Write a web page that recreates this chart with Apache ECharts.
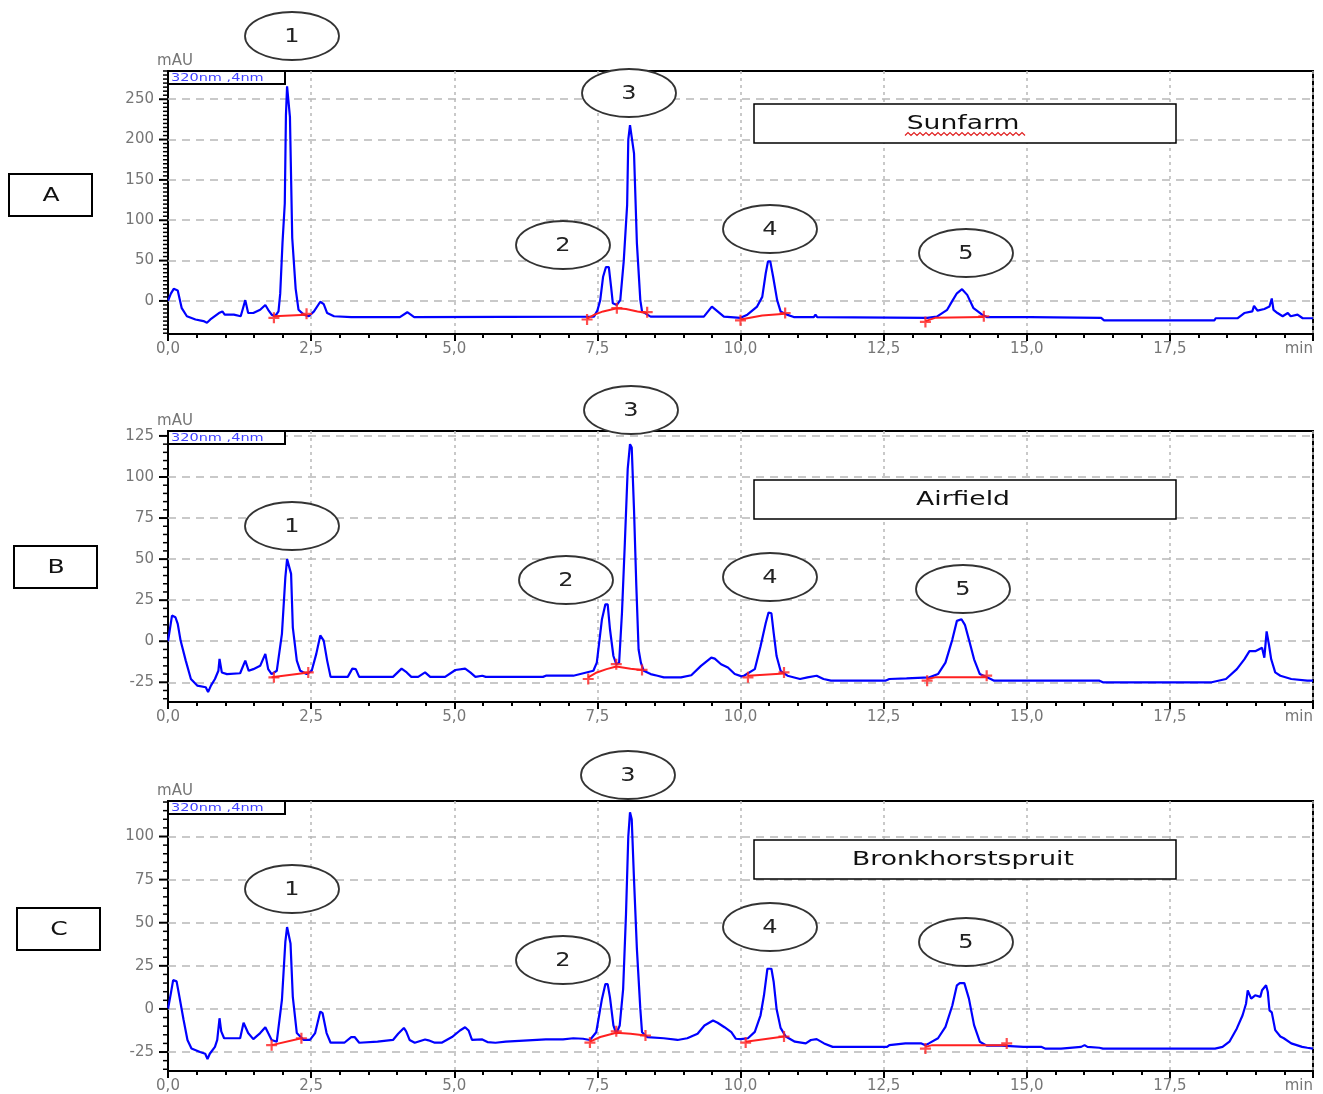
<!DOCTYPE html>
<html>
<head>
<meta charset="utf-8">
<script src="https://cdn.jsdelivr.net/npm/echarts@6/dist/echarts.min.js"></script>
<style>
html, body { margin: 0; padding: 0; background: #fff; }
#chart { width: 1323px; height: 1094px; }
</style>
</head>
<body>
<div id="chart"></div>
<script>
// --- data (time in min, absorbance in mAU) ---
const timeStep = 2.5;
const yTicksA = [0, 50, 100, 150, 200, 250];
const yTicksB = [-25, 0, 25, 50, 75, 100, 125];
const yTicksC = [-25, 0, 25, 50, 75, 100];
const yMinorStep = 5;
const sampleNames = ['Sunfarm', 'Airfield', 'Bronkhorstspruit'];
const panelLetters = ['A', 'B', 'C'];
const channelLabel = '320nm ,4nm';

const traceA = [
  [0.00,0],[0.05,9],[0.10,15],[0.17,13],[0.24,-9],[0.33,-19],[0.48,-23],[0.62,-25],[0.68,-27],[0.74,-23],
  [0.89,-15],[0.95,-13],[0.99,-17],[1.15,-17],[1.27,-19],[1.31,-9],[1.35,1],[1.40,-15],[1.49,-15],[1.61,-11],
  [1.70,-5],[1.75,-11],[1.81,-17],[1.87,-19],[1.93,-13],[1.96,9],[2.00,72],[2.04,121],[2.06,230],[2.08,266],
  [2.11,266],[2.13,228],[2.17,78],[2.23,15],[2.28,-11],[2.37,-17],[2.46,-19],[2.55,-13],[2.66,-1],[2.72,-4],
  [2.78,-15],[2.90,-19],[3.20,-20],[4.05,-20],[4.18,-14],[4.30,-20],[7.44,-19.5],[7.50,-12],[7.55,1],[7.60,30],
  [7.65,42],[7.70,42],[7.74,17],[7.77,-3],[7.84,-5],[7.90,1],[7.96,49],[8.02,119],[8.04,200],[8.07,218],
  [8.10,218],[8.14,183],[8.19,72],[8.25,1],[8.28,-13],[8.43,-19.5],[9.36,-19.5],[9.50,-7],[9.71,-19.5],[10.00,-21],
  [10.12,-17],[10.29,-7],[10.38,5],[10.44,34],[10.48,49],[10.52,49],[10.57,30],[10.64,1],[10.70,-13],[10.81,-17],
  [10.93,-20],[11.28,-20],[11.31,-17],[11.34,-20],[13.26,-21],[13.43,-19.5],[13.61,-11],[13.70,0],[13.78,9.5],[13.87,14.5],
  [13.96,7.5],[14.07,-9],[14.22,-17],[14.30,-20],[15.06,-20],[16.30,-21],[16.35,-24],[18.28,-24],[18.30,-21.5],[18.68,-21.5],
  [18.80,-15],[18.94,-13],[18.97,-6],[19.03,-12],[19.15,-10],[19.24,-7],[19.28,3],[19.31,-11],[19.38,-15],[19.47,-19],
  [19.56,-15],[19.61,-19],[19.73,-17],[19.82,-21.5],[20.00,-21.5]
];
const baseA = [
  [[1.85,-19],[2.42,-17]],
  [[7.32,-22],[7.45,-17],[7.60,-13],[7.84,-9],[8.00,-10],[8.20,-13],[8.37,-15]],
  [[10.00,-23],[10.38,-18],[10.78,-16]],
  [[13.23,-25],[13.40,-21],[14.25,-20]]
];
const marksA = [[1.85,-21],[2.42,-16],[7.32,-23],[7.84,-9],[8.37,-14],[10.00,-24],[10.78,-15],[13.23,-26],[14.25,-19]];

const traceB = [
  [0.00,0],[0.02,0.4],[0.07,15.6],[0.13,14.6],[0.17,10.6],[0.22,0.4],[0.31,-11.8],[0.40,-23],[0.51,-27],[0.66,-28],
  [0.70,-31],[0.75,-27],[0.82,-23],[0.88,-18],[0.90,-10.8],[0.94,-19],[1.03,-20],[1.26,-19.5],[1.35,-11.8],[1.41,-18],
  [1.49,-17],[1.61,-15],[1.70,-7.7],[1.75,-17],[1.81,-20],[1.90,-18],[1.99,4.5],[2.05,39],[2.08,50],[2.11,50],
  [2.15,41],[2.18,8.5],[2.25,-11.8],[2.31,-18],[2.42,-20],[2.51,-18],[2.59,-7.7],[2.66,3.5],[2.72,0.4],[2.78,-11.8],
  [2.84,-21.7],[3.14,-21.7],[3.22,-16.7],[3.28,-17],[3.34,-21.7],[3.93,-21.7],[4.08,-16.7],[4.17,-19],[4.25,-21.7],[4.37,-21.7],
  [4.49,-19],[4.58,-21.7],[4.84,-21.7],[5.02,-17.5],[5.19,-16.7],[5.28,-19],[5.37,-21.7],[5.49,-21],[5.55,-21.7],[6.55,-21.7],
  [6.60,-21],[7.08,-21],[7.43,-18],[7.49,-13],[7.58,13.4],[7.64,22.5],[7.68,22.5],[7.72,7.3],[7.78,-9],[7.83,-14],
  [7.88,-13],[7.93,17.5],[7.98,60],[8.03,105],[8.07,120],[8.10,118],[8.14,80],[8.18,34],[8.22,-5],[8.26,-13],
  [8.31,-18],[8.43,-20],[8.55,-21],[8.66,-22],[8.96,-22],[9.14,-20.7],[9.31,-15],[9.49,-10],[9.55,-10.6],[9.66,-14],
  [9.78,-16],[9.90,-20],[10.02,-21.4],[10.06,-21],[10.25,-17],[10.35,-3],[10.44,11],[10.49,17.5],[10.54,17],[10.58,5],
  [10.63,-9],[10.70,-18],[10.82,-21],[11.04,-23],[11.17,-22],[11.33,-21],[11.45,-23],[11.58,-24],[12.53,-24],[12.60,-23],
  [12.90,-22.6],[13.30,-22],[13.45,-20],[13.58,-13],[13.70,1],[13.78,12.4],[13.86,13.4],[13.92,10],[13.99,1],[14.08,-11],
  [14.18,-20],[14.37,-23],[14.43,-24],[16.27,-24],[16.33,-25],[18.23,-25],[18.48,-23],[18.67,-17],[18.80,-11],[18.89,-6],
  [19.00,-6],[19.11,-4],[19.15,-10],[19.19,6],[19.23,-2],[19.27,-11],[19.34,-19],[19.43,-21],[19.62,-23],[19.90,-24],
  [20.00,-24]
];
const baseB = [
  [[1.81,-22],[2.46,-19]],
  [[7.34,-22],[7.49,-19],[7.66,-17],[7.83,-15.4],[8.08,-16.7],[8.28,-17.5]],
  [[10.13,-21],[10.76,-19.7]],
  [[13.26,-23],[13.40,-22],[14.30,-22]]
];
const marksB = [[1.85,-22],[2.45,-19],[7.34,-23],[7.83,-14],[8.28,-17.5],[10.13,-22],[10.76,-19],[13.26,-24],[14.30,-21]];

const traceC = [
  [0.00,0],[0.05,9],[0.09,16.7],[0.15,16],[0.20,7],[0.27,-6],[0.34,-18],[0.41,-23],[0.56,-25],[0.65,-26],
  [0.69,-29],[0.73,-26],[0.82,-22],[0.86,-18],[0.90,-5.4],[0.93,-13],[0.98,-17],[1.26,-17],[1.32,-8],[1.35,-7],
  [1.40,-14],[1.49,-17.5],[1.61,-14],[1.70,-10.6],[1.75,-14],[1.81,-18],[1.90,-19],[1.99,5.2],[2.05,39],[2.08,47.5],
  [2.11,47.5],[2.14,38],[2.18,7],[2.25,-14],[2.37,-18],[2.48,-18],[2.57,-14],[2.66,-1.5],[2.70,-2.5],[2.77,-14],
  [2.84,-19.6],[3.08,-19.6],[3.20,-16.3],[3.26,-16.3],[3.34,-19.6],[3.66,-19],[3.93,-18],[4.02,-14.4],[4.12,-11],[4.16,-13],
  [4.22,-18],[4.31,-19.6],[4.49,-17.7],[4.55,-18.2],[4.66,-19.6],[4.78,-19.6],[4.96,-16.3],[5.10,-12.5],[5.19,-10.6],[5.25,-12.5],
  [5.31,-18],[5.49,-17.7],[5.58,-19.2],[5.72,-19.6],[5.90,-19],[6.60,-17.7],[6.90,-17.7],[7.08,-17],[7.25,-17.3],[7.37,-18],
  [7.48,-13.5],[7.58,5.8],[7.64,14.4],[7.68,14.4],[7.72,6.7],[7.78,-9.6],[7.83,-14.4],[7.89,-9.6],[7.95,11.5],[8.00,55],
  [8.04,100],[8.07,114],[8.10,110],[8.14,75],[8.19,35],[8.25,0],[8.28,-13.5],[8.37,-16.3],[8.66,-17],[8.90,-18],
  [9.07,-17],[9.25,-14.4],[9.37,-9.6],[9.52,-6.7],[9.60,-8],[9.72,-10.6],[9.84,-13.5],[9.92,-17.3],[10.00,-17.5],[10.13,-17],
  [10.25,-13.3],[10.35,-3.7],[10.41,7.9],[10.47,23.3],[10.54,23.3],[10.58,15.6],[10.63,0],[10.70,-11],[10.79,-16],[10.95,-19],
  [11.14,-20],[11.23,-18],[11.33,-17.5],[11.46,-20],[11.61,-22],[12.56,-22],[12.60,-21],[12.88,-20],[13.16,-20],[13.23,-21],
  [13.29,-20],[13.45,-17],[13.58,-10.4],[13.70,2],[13.78,13.7],[13.83,15],[13.91,15],[13.99,6],[14.08,-9.4],[14.18,-19],
  [14.30,-21.3],[14.56,-21.3],[14.94,-22],[15.25,-22],[15.32,-23],[15.60,-23],[15.63,-22],[15.95,-22],[16.01,-21],[16.06,-22],
  [16.27,-22.5],[16.33,-23],[18.29,-23],[18.42,-22],[18.54,-19],[18.67,-11.3],[18.77,-3.7],[18.83,3],[18.86,10.8],[18.92,6],
  [18.99,7.9],[19.08,7],[19.11,10.8],[19.18,13.7],[19.21,10],[19.24,-0.8],[19.28,-2],[19.34,-12.3],[19.43,-16],[19.49,-17],
  [19.62,-20],[19.81,-22],[19.90,-22.5],[20.00,-23]
];
const baseC = [
  [[1.81,-21],[2.33,-17]],
  [[7.37,-19],[7.55,-16.3],[7.83,-13.8],[8.08,-14.4],[8.34,-15.4]],
  [[10.09,-19],[10.76,-16]],
  [[13.23,-22],[13.35,-21],[14.11,-21],[14.65,-21]]
];
const marksC = [[1.81,-21],[2.33,-17],[7.37,-19.5],[7.83,-13],[8.34,-15.4],[10.09,-19.5],[10.76,-16],[13.23,-23],[14.65,-20]];

// --- layout ---
const FONT = 'DejaVu Sans';
const GRAY = '#767676';
const panels = [
  { top: 71,  height: 263, min: -41, max: 285,   ticks: yTicksA, trace: traceA, base: baseA, marks: marksA },
  { top: 431, height: 271, min: -37, max: 128,   ticks: yTicksB, trace: traceB, base: baseB, marks: marksB },
  { top: 801, height: 271, min: -36, max: 120.6, ticks: yTicksC, trace: traceC, base: baseC, marks: marksC }
];
// peak ellipses: [label, cx, cy]
const peakEllipses = [
  [['1',292,36],['3',629,93],['2',563,245],['4',770,229],['5',966,253]],
  [['1',292,526],['3',631,410],['2',566,580],['4',770,577],['5',963,589]],
  [['1',292,889],['3',628,775],['2',563,960],['4',770,927],['5',966,942]]
];
const letterBoxes = [[9,174],[14,546],[17,908]];
const nameBoxes = [104, 480, 840];

const plusPath = 'path://M4,0h2v4h4v2h-4v4h-2v-4h-4v-2h4z';

const grid = [], xAxis = [], yAxis = [], series = [];
panels.forEach((p, i) => {
  grid.push({
    left: 168, right: 10, top: p.top, height: p.height,
    show: true, borderColor: '#000', borderWidth: 2
  });
  xAxis.push({
    gridIndex: i, type: 'value', min: 0, max: 20, interval: timeStep,
    axisLine: { onZero: false, lineStyle: { color: '#000', width: 2 } },
    axisTick: { length: 7, lineStyle: { color: '#000', width: 2 } },
    minorTick: { show: true, splitNumber: 5, length: 4, lineStyle: { color: '#000', width: 2 } },
    axisLabel: {
      color: GRAY, fontFamily: FONT, fontSize: 15, margin: 8, alignMaxLabel: 'right',
      formatter: v => v === 20 ? 'min' : v.toFixed(1).replace('.', ',')
    },
    splitLine: { show: true, lineStyle: { color: '#b8b8b8', width: 1.5, type: [3, 4] } }
  });
  yAxis.push({
    gridIndex: i, type: 'value', min: p.min, max: p.max, position: 'left',
    name: 'mAU', nameLocation: 'end', nameGap: 2,
    nameTextStyle: { color: GRAY, fontFamily: FONT, fontSize: 15, padding: [0, 0, 0, 14] },
    axisLine: { show: true, onZero: false, lineStyle: { color: '#000', width: 2 } },
    axisTick: { show: false },
    axisLabel: { color: GRAY, fontFamily: FONT, fontSize: 15, margin: 14, customValues: p.ticks },
    splitLine: { show: false }
  });
  series.push({
    type: 'line', xAxisIndex: i, yAxisIndex: i, data: p.trace,
    showSymbol: false, silent: true, z: 3,
    lineStyle: { color: '#0000ff', width: 2.2 },
    markLine: {
      silent: true, symbol: 'none', z: 1, animation: false,
      label: { show: false },
      lineStyle: { color: '#b8b8b8', width: 1.5, type: [8, 6] },
      data: p.ticks.map(v => ({ yAxis: v }))
    }
  });
  // y-axis tick marks (long at labelled values, short every 5 mAU), placed through the axis scale
  const tickVals = [];
  for (let v = Math.ceil(p.min / yMinorStep) * yMinorStep; v <= p.max; v += yMinorStep) tickVals.push([0, v]);
  series.push({
    type: 'custom', xAxisIndex: i, yAxisIndex: i, data: tickVals, silent: true, clip: false, z: 6,
    renderItem: (params, api) => {
      const v = api.value(1);
      const pt = api.coord([0, v]);
      const len = p.ticks.indexOf(v) >= 0 ? 9 : 5;
      return {
        type: 'line',
        shape: { x1: pt[0] - len, y1: pt[1], x2: pt[0], y2: pt[1] },
        style: { stroke: '#000', lineWidth: p.ticks.indexOf(v) >= 0 ? 2 : 1.5 }
      };
    }
  });
  p.base.forEach(seg => {
    series.push({
      type: 'line', xAxisIndex: i, yAxisIndex: i, data: seg,
      showSymbol: false, silent: true, z: 4,
      lineStyle: { color: '#ff2020', width: 2 }
    });
  });
  series.push({
    type: 'scatter', xAxisIndex: i, yAxisIndex: i, data: p.marks,
    symbol: plusPath, symbolSize: 11, silent: true, z: 5,
    itemStyle: { color: '#ff2020' }
  });
});

// --- annotations ---
const graphic = [];
panels.forEach((p, i) => {
  // channel box
  graphic.push({
    type: 'rect', z: 50, shape: { x: 168, y: p.top, width: 117, height: 13 },
    style: { fill: '#fff', stroke: '#000', lineWidth: 2 }
  });
  graphic.push({
    type: 'text', z: 51, x: 171, y: p.top + 7, scaleX: 1.45,
    style: { text: channelLabel, fill: '#4040ff', font: '10px ' + FONT, verticalAlign: 'middle' }
  });
  // panel letter box
  const [lx, ly] = letterBoxes[i];
  graphic.push({
    type: 'rect', z: 50, shape: { x: lx, y: ly, width: 83, height: 42 },
    style: { fill: '#fff', stroke: '#000', lineWidth: 2 }
  });
  graphic.push({
    type: 'text', z: 51, x: lx + 42, y: ly + 22, scaleX: 1.25,
    style: { text: panelLetters[i], fill: '#111', font: '20px ' + FONT, align: 'center', verticalAlign: 'middle' }
  });
  // sample name box
  const ny = nameBoxes[i];
  graphic.push({
    type: 'rect', z: 50, shape: { x: 754, y: ny, width: 422, height: 39 },
    style: { fill: '#fff', stroke: '#000', lineWidth: 1.5 }
  });
  graphic.push({
    type: 'text', z: 51, x: 963, y: ny + 20, scaleX: 1.4,
    style: { text: sampleNames[i], fill: '#111', font: '19px ' + FONT, align: 'center', verticalAlign: 'middle' }
  });
  // peak ellipses
  peakEllipses[i].forEach(([lab, cx, cy]) => {
    graphic.push({
      type: 'ellipse', z: 60, shape: { cx: cx, cy: cy, rx: 47, ry: 24 },
      style: { fill: '#fff', stroke: '#333', lineWidth: 1.8 }
    });
    graphic.push({
      type: 'text', z: 61, x: cx, y: cy + 1, scaleX: 1.2,
      style: { text: lab, fill: '#222', font: '20px ' + FONT, align: 'center', verticalAlign: 'middle' }
    });
  });
});
// red spell-check squiggle under "Sunfarm"
const squiggle = [];
for (let k = 0; k <= 40; k++) squiggle.push([905 + k * 3, 134 + (k % 2 ? -1.5 : 1.5)]);
graphic.push({
  type: 'polyline', z: 52, shape: { points: squiggle },
  style: { stroke: '#e02020', lineWidth: 1.2, fill: null }
});

const chart = echarts.init(document.getElementById('chart'));
chart.setOption({
  animation: false,
  backgroundColor: '#fff',
  grid, xAxis, yAxis, series, graphic
});
</script>
</body>
</html>
